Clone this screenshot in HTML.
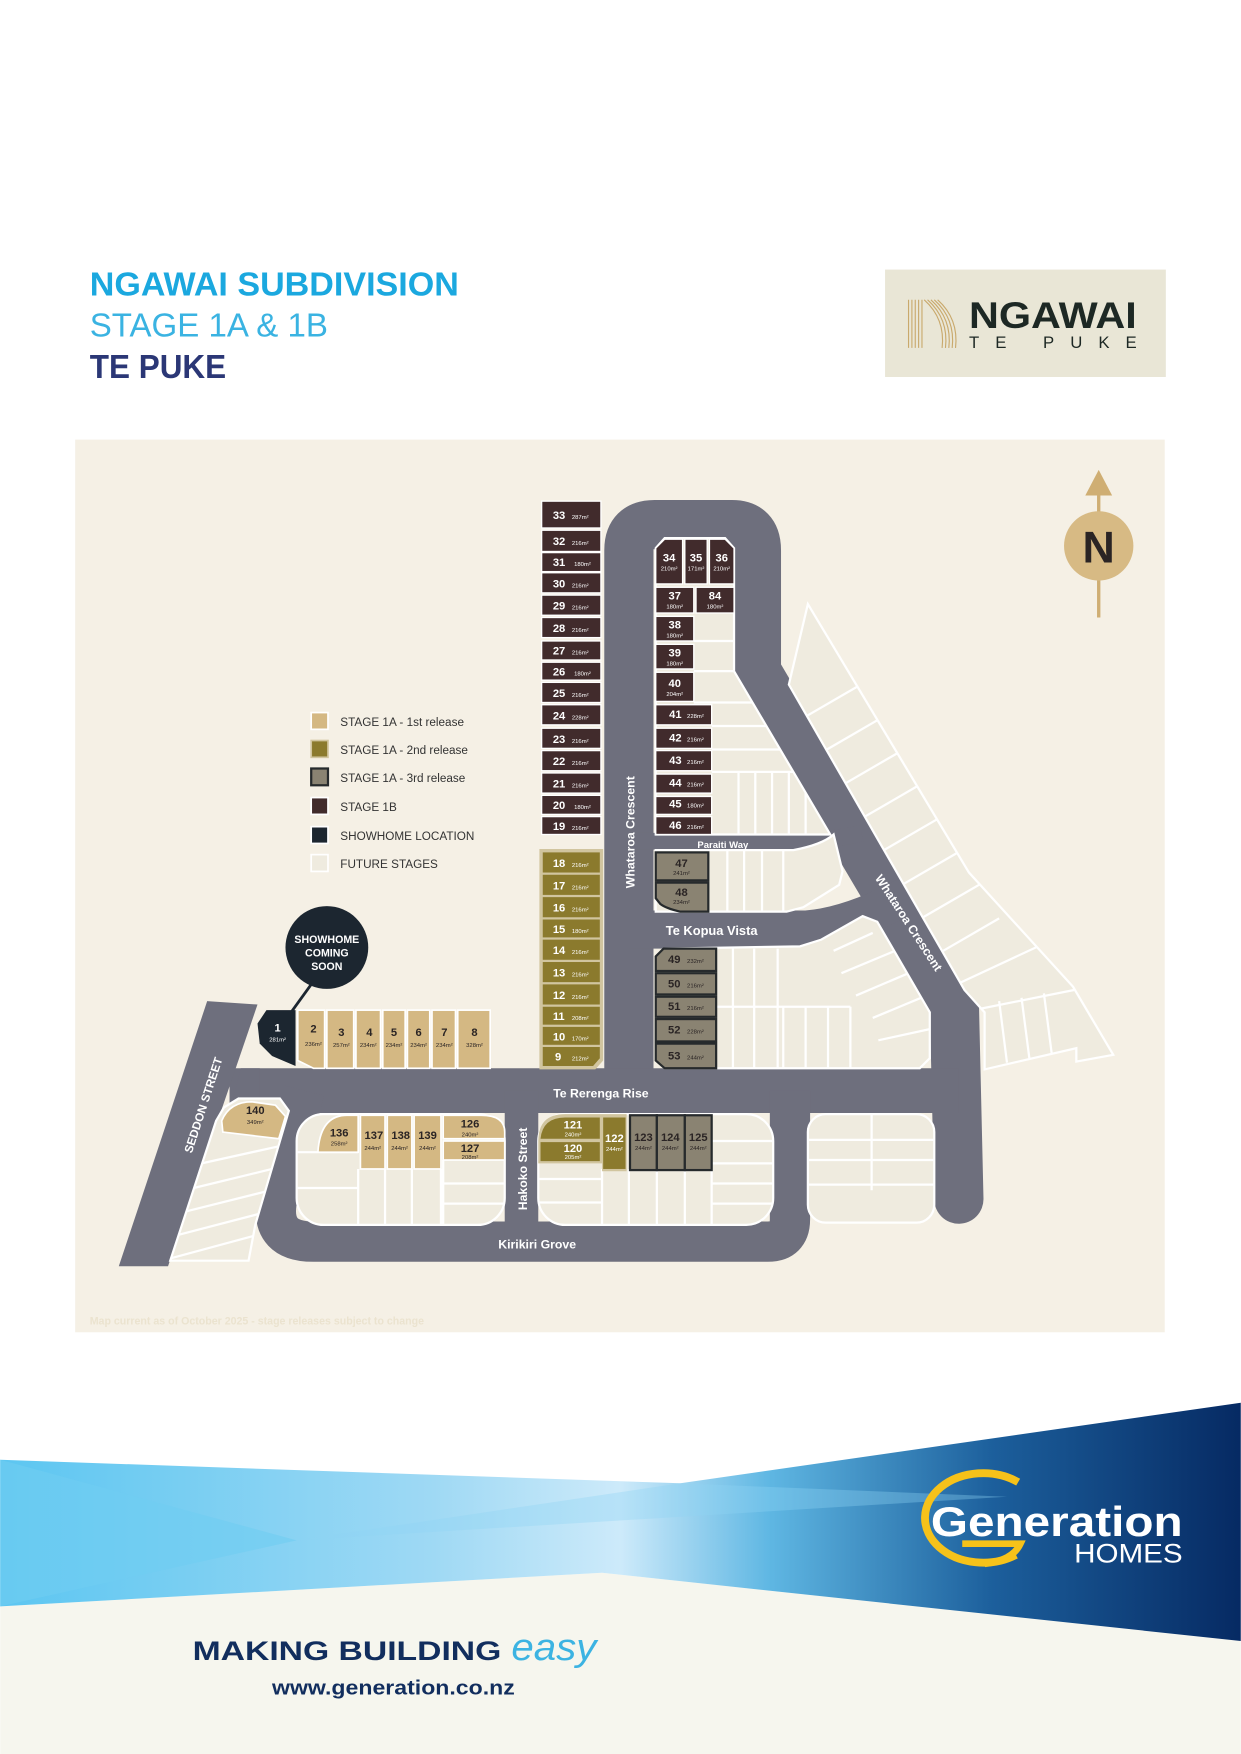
<!DOCTYPE html>
<html><head><meta charset="utf-8"><style>
html,body{margin:0;padding:0;background:#fff;}
svg{display:block}
text{font-family:"Liberation Sans",sans-serif}
.n{font-weight:bold;font-size:10px;fill:#fff}
.a{font-size:5.3px;fill:#fff}
.nd{font-weight:bold;font-size:10px;fill:#2a2424}
.ad{font-size:5.3px;fill:#2a2424}
.rd{font-weight:bold;fill:#fff}
.lg{font-size:10.5px;fill:#333}
</style></head><body>
<svg width="1241" height="1754" viewBox="0 0 1109 1568" xmlns="http://www.w3.org/2000/svg">
<defs>
<linearGradient id="bn" x1="0" y1="0" x2="1" y2="0">
<stop offset="0" stop-color="#5cc6f1"/><stop offset="0.35" stop-color="#9fd9f4"/><stop offset="0.5" stop-color="#cdeafa"/><stop offset="0.62" stop-color="#5fb7e3"/><stop offset="0.8" stop-color="#1c5f9c"/><stop offset="1" stop-color="#062a63"/>
</linearGradient>
<clipPath id="cs"><path d="M705,612 L722,540 L866,780 L959,882 L995,943 L962,949 L962,937 L880,956 L880,905 L862,885 Z"/></clipPath>
<clipPath id="ci"><path d="M586,490 L594,481 L648,481 L656,490 L656,600 L742,746 L586,746 Z"/></clipPath>
<clipPath id="cd"><path d="M586,856 L594,848 L715,846 L734,840 L771,819 L784,824 L831,905 L831,946 L822,955 L594,955 L586,947 Z"/></clipPath>
<clipPath id="ch"><path d="M200,990 L213,982 L250,982 L258,993 L228,1095 L222,1127 L152,1127 L193,1002 Z"/></clipPath>
</defs>

<text x="80" y="264" font-size="30" font-weight="bold" fill="#1ba8df" textLength="330" lengthAdjust="spacingAndGlyphs">NGAWAI SUBDIVISION</text>
<text x="80" y="301" font-size="30" fill="#3ab3e2" textLength="213" lengthAdjust="spacingAndGlyphs">STAGE 1A &amp; 1B</text>
<text x="80" y="338" font-size="30" font-weight="bold" fill="#2b3776" textLength="122" lengthAdjust="spacingAndGlyphs">TE PUKE</text>

<rect x="791" y="241" width="251" height="96" fill="#e9e6d6"/>
<g fill="none" stroke="#c9a96c" stroke-width="1">
<path d="M812,311 L812,268 M815,311 L815,268 M818,311 L818,268 M821,311 L821,268 M824,311 L824,268"/>
<path d="M826,268 Q845,285 842,311 M829,268 Q848,285 845,311 M832,268 Q851,285 848,311 M835,268 Q854,285 851,311 M838,268 Q857,285 854,311"/>
</g>
<text x="866" y="293" font-size="33" font-weight="bold" fill="#1d2824" textLength="150" lengthAdjust="spacingAndGlyphs">NGAWAI</text>
<text x="866" y="311" font-size="15" fill="#1d2824" textLength="150" lengthAdjust="spacing">TE PUKE</text>

<rect x="67" y="393" width="974" height="798" fill="#f5f0e5"/>

<g fill="none" stroke="#6e6f7d" stroke-linejoin="round">
<path d="M562,975 L562,492 Q562,469 585,469 L654,469 Q676,469 676,492 L676,600 L853,900 L857,1072" stroke-width="44" stroke-linecap="round"/>
<path d="M205,975 L857,975" stroke-width="40"/>
<path d="M272,975 L247,1075 Q242,1110 280,1110 L686,1110 Q706,1110 706,1090 L706,975" stroke-width="36"/>
<path d="M466,975 L466,1110" stroke-width="30"/>
<path d="M562,831 L720,831 Q760,828 812,800" stroke-width="34"/>
<path d="M562,752 L700,752 Q740,752 770,745" stroke-width="15"/>
</g>
<path d="M185,895 L230,898 L150,1132 L106,1132 Z" fill="#6e6f7d"/>
<path d="M215,955 L232,955 L232,995 L205,995 Z" fill="#6e6f7d"/>

<g fill="#efebdf" stroke="#fff" stroke-width="2">
<path d="M705,612 L722,540 L866,780 L959,882 L995,943 L962,949 L962,937 L880,956 L880,905 L862,885 Z"/>
<path d="M586,490 L594,481 L648,481 L656,490 L656,600 L742,746 L586,746 Z"/>
<path d="M586,760 L709,760 Q735,755 745,746 L753,779 L750,791 L718,811 L703,815 L586,815 Z"/>
<path d="M586,856 L594,848 L715,846 L734,840 L771,819 L784,824 L831,905 L831,946 L822,955 L594,955 L586,947 Z"/>
<path d="M200,990 L213,982 L250,982 L258,993 L228,1095 L222,1127 L152,1127 L193,1002 Z"/>
<rect x="265" y="996" width="186" height="99" rx="24"/>
<rect x="481" y="996" width="210" height="99" rx="24"/>
<rect x="722" y="996" width="113" height="97" rx="16"/>
</g>
<g stroke="#fff" stroke-width="2" fill="none">
<g clip-path="url(#cs)"><path d="M721,640 L771,611 M739,670 L789,641 M756,700 L806,671 M773,730 L823,701 M790,760 L840,731 M808,790 L858,761 M825,820 L875,791 M843,850 L893,821 M855,880 L930,845 M860,905 L960,885 M900,950 L893,895 M920,946 L913,892 M940,942 L933,888"/></g>
<g clip-path="url(#ci)"><path d="M620,573 L700,573 M620,600 L700,600 M620,628 L720,628 M636,649 L720,649 M636,670 L720,670 M636,690 L720,690 M660,690 L660,746 M675,690 L675,746 M690,690 L690,746 M705,690 L705,746 M720,690 L720,746"/></g>
<path d="M650,760 L650,815 M665,760 L665,815 M681,760 L681,815 M700,760 L700,815"/>
<g clip-path="url(#cd)"><path d="M655,848 L655,955 M674,848 L674,955 M695,848 L695,955 M640,900 L760,900 M700,900 L700,955 M720,900 L720,955 M740,900 L740,955 M760,900 L760,955 M745,850 L780,834 M752,870 L800,850 M765,890 L812,870 M780,910 L828,890 M785,930 L831,920"/></g>
<g clip-path="url(#ch)"><path d="M180,1040 L248,1025 M173,1062 L243,1045 M166,1083 L238,1065 M159,1104 L232,1085 M152,1125 L226,1105"/></g>
<path d="M265,1030 L320,1030 M265,1062 L320,1062 M320,1045 L320,1095 M344,1045 L344,1095 M368,1045 L368,1095 M394,1045 L394,1095 M396,1037 L396,1095 M396,1058 L451,1058 M396,1076 L451,1076"/>
<path d="M481,1054 L538,1054 M481,1075 L538,1075 M538,1045 L538,1095 M562,1045 L562,1095 M587,1045 L587,1095 M612,1045 L612,1095 M636,1045 L636,1095 M636,1020 L691,1020 M636,1040 L691,1040 M636,1058 L691,1058 M636,1076 L691,1076"/>
<path d="M779,996 L779,1064 M722,1019 L835,1019 M722,1037 L835,1037 M722,1059 L835,1059"/>
</g>

<g fill="#412b2c" stroke="#fff" stroke-width="1.2">
<rect x="484" y="448" width="53" height="24"/><rect x="484" y="474" width="53" height="19"/><rect x="484" y="494" width="53" height="17"/><rect x="484" y="512" width="53" height="18"/><rect x="484" y="532" width="53" height="18"/><rect x="484" y="552" width="53" height="18"/><rect x="484" y="573" width="53" height="17"/><rect x="484" y="592" width="53" height="16"/><rect x="484" y="610" width="53" height="18"/><rect x="484" y="630" width="53" height="18"/><rect x="484" y="651" width="53" height="18"/><rect x="484" y="671" width="53" height="18"/><rect x="484" y="691" width="53" height="18"/><rect x="484" y="711" width="53" height="17"/><rect x="484" y="730" width="53" height="16"/>
<path d="M586,490 L594,482 L610,482 L610,522 L586,522 Z"/><rect x="612" y="482" width="20" height="40"/><path d="M634,482 L648,482 L656,490 L656,522 L634,522 Z"/>
<rect x="586" y="525" width="34" height="23"/><rect x="622" y="525" width="34" height="23"/>
<rect x="586" y="551" width="34" height="22"/><rect x="586" y="576" width="34" height="22"/><rect x="586" y="601" width="34" height="26"/>
<rect x="586" y="630" width="50" height="18"/><rect x="586" y="651" width="50" height="18"/><rect x="586" y="671" width="50" height="18"/><rect x="586" y="692" width="50" height="17"/><rect x="586" y="712" width="50" height="16"/><rect x="586" y="730" width="50" height="16"/>
</g>
<g>
<text class="n" x="494" y="464">33</text><text class="a" x="511" y="464">287m²</text>
<text class="n" x="494" y="487">32</text><text class="a" x="511" y="487">216m²</text>
<text class="n" x="494" y="506">31</text><text class="a" x="513" y="506">180m²</text>
<text class="n" x="494" y="525">30</text><text class="a" x="511" y="525">216m²</text>
<text class="n" x="494" y="545">29</text><text class="a" x="511" y="545">216m²</text>
<text class="n" x="494" y="565">28</text><text class="a" x="511" y="565">216m²</text>
<text class="n" x="494" y="585">27</text><text class="a" x="511" y="585">216m²</text>
<text class="n" x="494" y="604">26</text><text class="a" x="513" y="604">180m²</text>
<text class="n" x="494" y="623">25</text><text class="a" x="511" y="623">216m²</text>
<text class="n" x="494" y="643">24</text><text class="a" x="511" y="643">228m²</text>
<text class="n" x="494" y="664">23</text><text class="a" x="511" y="664">216m²</text>
<text class="n" x="494" y="684">22</text><text class="a" x="511" y="684">216m²</text>
<text class="n" x="494" y="704">21</text><text class="a" x="511" y="704">216m²</text>
<text class="n" x="494" y="723">20</text><text class="a" x="513" y="723">180m²</text>
<text class="n" x="494" y="742">19</text><text class="a" x="511" y="742">216m²</text>
</g>
<g text-anchor="middle">
<text class="n" x="598" y="502">34</text><text class="a" x="598" y="510">210m²</text>
<text class="n" x="622" y="502">35</text><text class="a" x="622" y="510">171m²</text>
<text class="n" x="645" y="502">36</text><text class="a" x="645" y="510">210m²</text>
<text class="n" x="603" y="536">37</text><text class="a" x="603" y="544">180m²</text>
<text class="n" x="639" y="536">84</text><text class="a" x="639" y="544">180m²</text>
<text class="n" x="603" y="562">38</text><text class="a" x="603" y="570">180m²</text>
<text class="n" x="603" y="587">39</text><text class="a" x="603" y="595">180m²</text>
<text class="n" x="603" y="614">40</text><text class="a" x="603" y="622">204m²</text>
</g>
<g>
<text class="n" x="598" y="642">41</text><text class="a" x="614" y="642">228m²</text>
<text class="n" x="598" y="663">42</text><text class="a" x="614" y="663">216m²</text>
<text class="n" x="598" y="683">43</text><text class="a" x="614" y="683">216m²</text>
<text class="n" x="598" y="703">44</text><text class="a" x="614" y="703">216m²</text>
<text class="n" x="598" y="722">45</text><text class="a" x="614" y="722">180m²</text>
<text class="n" x="598" y="741">46</text><text class="a" x="614" y="741">216m²</text>
</g>

<path d="M482,759 L539,759 L539,948 L532,956 L482,956 Z" fill="#d1c59f"/>
<g fill="#8b7a2d">
<rect x="485" y="762" width="51" height="18"/><rect x="485" y="782" width="51" height="18"/><rect x="485" y="802" width="51" height="18"/><rect x="485" y="822" width="51" height="16"/><rect x="485" y="840" width="51" height="18"/><rect x="485" y="860" width="51" height="18"/><rect x="485" y="880" width="51" height="18"/><rect x="485" y="900" width="51" height="16"/><rect x="485" y="918" width="51" height="16"/><path d="M485,936 L536,936 L536,946 L530,953 L485,953 Z"/>
</g>
<g>
<text class="n" x="494" y="775">18</text><text class="a" x="511" y="775">216m²</text>
<text class="n" x="494" y="795">17</text><text class="a" x="511" y="795">216m²</text>
<text class="n" x="494" y="815">16</text><text class="a" x="511" y="815">216m²</text>
<text class="n" x="494" y="834">15</text><text class="a" x="511" y="834">180m²</text>
<text class="n" x="494" y="853">14</text><text class="a" x="511" y="853">216m²</text>
<text class="n" x="494" y="873">13</text><text class="a" x="511" y="873">216m²</text>
<text class="n" x="494" y="893">12</text><text class="a" x="511" y="893">216m²</text>
<text class="n" x="494" y="912">11</text><text class="a" x="511" y="912">208m²</text>
<text class="n" x="494" y="930">10</text><text class="a" x="511" y="930">170m²</text>
<text class="n" x="496" y="948">9</text><text class="a" x="511" y="948">212m²</text>
</g>
<path d="M481,1045 L481,1020 Q481,996 505,996 L560,996 L560,1047 L538,1047 L538,1040 L481,1040 Z" fill="#d1c59f"/>
<g fill="#8b7a2d">
<path d="M483,1018 Q485,999 505,999 L536,999 L536,1018 Z"/><rect x="483" y="1021" width="53" height="17"/><rect x="539" y="999" width="20" height="46"/>
</g>
<g text-anchor="middle">
<text class="n" x="512" y="1009">121</text><text class="a" x="512" y="1016">240m²</text>
<text class="n" x="512" y="1030">120</text><text class="a" x="512" y="1036">205m²</text>
<text class="n" x="549" y="1021">122</text><text class="a" x="549" y="1029">244m²</text>
</g>

<g fill="#8a8372" stroke="#262a2c" stroke-width="2">
<rect x="586" y="762" width="47" height="25"/><path d="M586,789 L633,789 L633,815 L608,815 Q595,812 590,808 L586,803 Z"/>
<path d="M586,855 L593,848 L640,848 L640,868 L586,868 Z"/><rect x="586" y="870" width="54" height="19"/><rect x="586" y="891" width="54" height="18"/><rect x="586" y="911" width="54" height="20"/><path d="M586,933 L640,933 L640,955 L594,955 L586,948 Z"/>
<rect x="563" y="997" width="24" height="49"/><rect x="587" y="997" width="25" height="49"/><rect x="612" y="997" width="24" height="49"/>
</g>
<g text-anchor="middle">
<text class="nd" x="609" y="775">47</text><text class="ad" x="609" y="782">241m²</text>
<text class="nd" x="609" y="801">48</text><text class="ad" x="609" y="808">234m²</text>
<text class="nd" x="575" y="1020">123</text><text class="ad" x="575" y="1028">244m²</text>
<text class="nd" x="599" y="1020">124</text><text class="ad" x="599" y="1028">244m²</text>
<text class="nd" x="624" y="1020">125</text><text class="ad" x="624" y="1028">244m²</text>
</g>
<g>
<text class="nd" x="597" y="861">49</text><text class="ad" x="614" y="861">232m²</text>
<text class="nd" x="597" y="883">50</text><text class="ad" x="614" y="883">216m²</text>
<text class="nd" x="597" y="903">51</text><text class="ad" x="614" y="903">216m²</text>
<text class="nd" x="597" y="924">52</text><text class="ad" x="614" y="924">228m²</text>
<text class="nd" x="597" y="947">53</text><text class="ad" x="614" y="947">244m²</text>
</g>

<g fill="#d4b883" stroke="#fff" stroke-width="1.5">
<path d="M266,903 L290,903 L290,955 L280,955 L266,948 Z"/><rect x="292" y="903" width="24" height="52"/><rect x="318" y="903" width="22" height="52"/><rect x="342" y="903" width="20" height="52"/><rect x="364" y="903" width="20" height="52"/><rect x="386" y="903" width="21" height="52"/><rect x="409" y="903" width="29" height="52"/>
<path d="M198,1002 Q205,985 225,985 L246,988 L255,998 L249,1018 L199,1012 Z"/>
<path d="M284,1030 Q286,997 310,997 L320,997 L320,1030 Z"/><rect x="322" y="997" width="22" height="48"/><rect x="346" y="997" width="22" height="48"/><rect x="370" y="997" width="24" height="48"/>
<path d="M396,997 L430,997 Q451,997 451,1012 L451,1018 L396,1018 Z"/><rect x="396" y="1020" width="55" height="17"/>
</g>
<path d="M230,915 L238,903 L264,903 L264,953 L243,944 L232,933 Z" fill="#1c2630"/>
<g text-anchor="middle">
<text class="n" x="248" y="922">1</text><text class="a" x="248" y="931">281m²</text>
<text class="nd" x="280" y="923">2</text><text class="ad" x="280" y="935">236m²</text>
<text class="nd" x="305" y="926">3</text><text class="ad" x="305" y="936">257m²</text>
<text class="nd" x="330" y="926">4</text><text class="ad" x="329" y="936">234m²</text>
<text class="nd" x="352" y="926">5</text><text class="ad" x="352" y="936">234m²</text>
<text class="nd" x="374" y="926">6</text><text class="ad" x="374" y="936">234m²</text>
<text class="nd" x="397" y="926">7</text><text class="ad" x="397" y="936">234m²</text>
<text class="nd" x="424" y="926">8</text><text class="ad" x="424" y="936">328m²</text>
<text class="nd" x="228" y="996">140</text><text class="ad" x="228" y="1005">349m²</text>
<text class="nd" x="303" y="1016">136</text><text class="ad" x="303" y="1024">258m²</text>
<text class="nd" x="334" y="1018">137</text><text class="ad" x="333" y="1028">244m²</text>
<text class="nd" x="358" y="1018">138</text><text class="ad" x="357" y="1028">244m²</text>
<text class="nd" x="382" y="1018">139</text><text class="ad" x="382" y="1028">244m²</text>
<text class="nd" x="420" y="1008">126</text><text class="ad" x="420" y="1016">240m²</text>
<text class="nd" x="420" y="1030">127</text><text class="ad" x="420" y="1036">208m²</text>
</g>

<text class="rd" font-size="11" text-anchor="middle" transform="translate(567,744) rotate(-90)">Whataroa Crescent</text>
<text class="rd" font-size="8.5" text-anchor="middle" x="646" y="758">Paraiti Way</text>
<text class="rd" font-size="11.5" text-anchor="middle" x="636" y="836">Te Kopua Vista</text>
<text class="rd" font-size="11" text-anchor="middle" transform="translate(809,827) rotate(57)">Whataroa Crescent</text>
<text class="rd" font-size="11" text-anchor="middle" x="537" y="981">Te Rerenga Rise</text>
<text class="rd" font-size="10.5" text-anchor="middle" transform="translate(185,989) rotate(-72)">SEDDON STREET</text>
<text class="rd" font-size="11" text-anchor="middle" transform="translate(471,1045) rotate(-90)">Hakoko Street</text>
<text class="rd" font-size="11" text-anchor="middle" x="480" y="1116">Kirikiri Grove</text>

<g stroke="#fff" stroke-width="1.5">
<rect x="278" y="637" width="15" height="15" fill="#d4b883"/>
<rect x="278" y="662" width="15" height="15" fill="#8b7a2d" stroke="#d1c59f"/>
<rect x="278" y="687" width="15" height="15" fill="#8a8372" stroke="#262a2c" stroke-width="2"/>
<rect x="278" y="713" width="15" height="15" fill="#412b2c"/>
<rect x="278" y="739" width="15" height="15" fill="#1c2630"/>
<rect x="278" y="764" width="15" height="15" fill="#efebdf"/>
</g>
<text class="lg" x="304" y="649">STAGE 1A - 1st release</text>
<text class="lg" x="304" y="674">STAGE 1A - 2nd release</text>
<text class="lg" x="304" y="699">STAGE 1A - 3rd release</text>
<text class="lg" x="304" y="725">STAGE 1B</text>
<text class="lg" x="304" y="751">SHOWHOME LOCATION</text>
<text class="lg" x="304" y="776">FUTURE STAGES</text>

<line x1="278" y1="880" x2="260" y2="905" stroke="#1c2630" stroke-width="2.5"/>
<circle cx="292" cy="847" r="37" fill="#1c2630"/>
<text x="292" y="843" class="rd" font-size="9.5" text-anchor="middle">SHOWHOME</text>
<text x="292" y="855" class="rd" font-size="9.5" text-anchor="middle">COMING</text>
<text x="292" y="867" class="rd" font-size="9.5" text-anchor="middle">SOON</text>

<line x1="982" y1="440" x2="982" y2="552" stroke="#cfae73" stroke-width="3"/>
<path d="M970,443 L982,420 L994,443 Z" fill="#cfae73"/>
<circle cx="982" cy="488" r="31" fill="#d7ba84"/>
<text x="982" y="503" text-anchor="middle" font-size="40" font-weight="bold" fill="#2a2424">N</text>

<text x="80" y="1184" font-size="9.5" font-weight="bold" fill="#ebe3cf">Map current as of October 2025 - stage releases subject to change</text>

<path d="M0,1436 L538,1406 L1109,1467 L1109,1568 L0,1568 Z" fill="#f6f6ee"/>
<path d="M0,1305 L608,1326 L1109,1254 L1109,1467 L538,1406 L0,1436 Z" fill="url(#bn)"/>
<path d="M0,1305 L265,1377 L0,1436 Z" fill="#6fcdf2" opacity="0.6"/>
<path d="M265,1377 L608,1326 L900,1338 Z" fill="#8fd5f3" opacity="0.35"/>
<path d="M910,1325 A52,40 0 1 0 908,1390" fill="none" stroke="#f6c21a" stroke-width="7"/>
<path d="M860,1380 L912,1380 Q905,1395 880,1398" fill="none" stroke="#f6c21a" stroke-width="6"/>
<text x="832" y="1373" font-size="37" font-weight="bold" fill="#fff" textLength="225" lengthAdjust="spacingAndGlyphs">Generation</text>
<text x="960" y="1397" font-size="24" fill="#fff" textLength="97" lengthAdjust="spacingAndGlyphs">HOMES</text>

<text x="172" y="1484" font-size="24" font-weight="bold" fill="#122e5e" textLength="276" lengthAdjust="spacingAndGlyphs">MAKING BUILDING</text>
<text x="457" y="1484" font-size="34" font-style="italic" fill="#3cb3e2" font-family="Liberation Serif, serif" textLength="76" lengthAdjust="spacingAndGlyphs">easy</text>
<text x="243" y="1515" font-size="18" font-weight="bold" fill="#122e5e" textLength="217" lengthAdjust="spacingAndGlyphs">www.generation.co.nz</text>
</svg>
</body></html>
